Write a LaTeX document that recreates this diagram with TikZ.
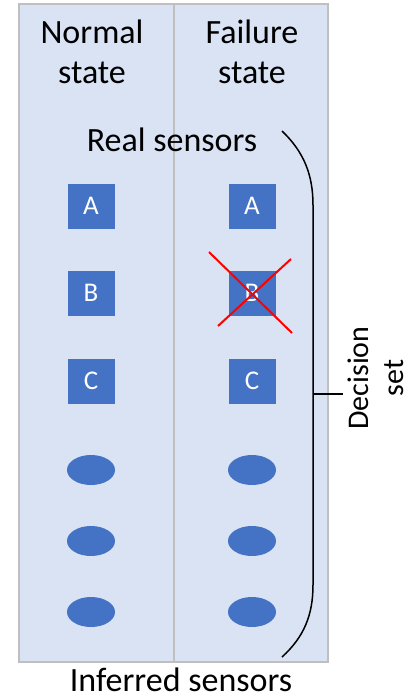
\documentclass[tikz,border=0pt]{standalone}
\usepackage{fontspec}
\setmainfont{Carlito}
\usepackage{tikz}
\usetikzlibrary{shapes.geometric}
\definecolor{paneblue}{HTML}{DAE3F3}
\definecolor{panegray}{HTML}{BFBFBF}
\definecolor{sensorblue}{HTML}{4472C4}

\begin{document}
\begin{tikzpicture}[x=1pt,y=-1pt]
  \tikzset{pane/.style={fill=paneblue,draw=panegray,line width=2pt}}
  \tikzset{realsensor/.style={rectangle,fill=sensorblue,text=white,minimum width=47pt,minimum height=45pt,inner sep=0pt,font=\fontsize{27}{30}\selectfont}}
  \tikzset{inferredsensor/.style={ellipse,fill=sensorblue,minimum width=48pt,minimum height=30pt,inner sep=0pt}}
  \tikzset{caption/.style={font=\fontsize{34}{40}\selectfont,align=center}}
  \useasboundingbox (0,0) rectangle (416,699);
  % the two columns
  \draw[pane] (19,4) rectangle (174,662);
  \draw[pane] (174,4) rectangle (328,662);
  \node[caption] (normal) at (92,52) {Normal\\state};
  \node[caption] (failure) at (252,52) {Failure\\state};
  \node[caption,anchor=base] (real) at (172,151) {Real sensors};
  \node[caption,anchor=base,inner ysep=1pt] (inferred) at (181,691) {Inferred sensors};
  % real sensors
  \node[realsensor] (nA) at (91,206) {A};
  \node[realsensor] (nB) at (91,293) {B};
  \node[realsensor] (nC) at (91,381) {C};
  \node[realsensor] (fA) at (252,206) {A};
  \node[realsensor] (fB) at (252,293) {B};
  \node[realsensor] (fC) at (252,381) {C};
  \draw[red,line width=2pt] (209,252) -- (292,333);
  \draw[red,line width=2pt] (218,326) -- (291,259);
  % inferred sensors
  \node[inferredsensor] (nD) at (91,470) {};
  \node[inferredsensor] (nE) at (91,541) {};
  \node[inferredsensor] (nF) at (91,612) {};
  \node[inferredsensor] (fD) at (252,470) {};
  \node[inferredsensor] (fE) at (252,541) {};
  \node[inferredsensor] (fF) at (252,612) {};
  % decision set brace
  \draw[line width=1.5pt] (282,131) .. controls (304,152) and (313,175) .. (313,205)
    -- (313,585) .. controls (313,615) and (304,637) .. (282,657);
  \draw[line width=1.2pt] (313,394) -- (343,394);
  \node[font=\fontsize{30}{35}\selectfont,align=center,rotate=90,inner sep=1pt] (decision) at (376,378) {Decision\\set};
\end{tikzpicture}
\end{document}
